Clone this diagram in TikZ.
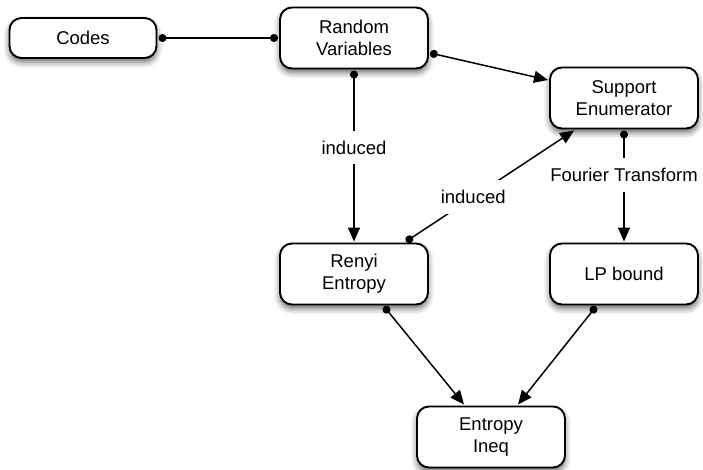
\documentclass[tikz,border=0pt]{standalone}
\usepackage{fontspec}
\setmainfont{Liberation Sans}
\usetikzlibrary{arrows.meta,shadows.blur}
\begin{document}
\begin{tikzpicture}[x=1pt,y=-1pt,
  box/.style={draw=black,line width=1.9pt,rounded corners=12pt,fill=white,
    minimum width=148pt,minimum height=61pt,align=center,outer sep=2pt,
    font=\fontsize{18.5}{22}\selectfont,
    blur shadow={shadow xshift=0pt,shadow yshift=-4pt,shadow blur radius=6pt,shadow opacity=60}},
  conn/.style={line width=1.5pt,{Circle[length=8pt]}-{Triangle[length=14pt,width=12pt]}},
  link/.style={line width=1.5pt,{Circle[length=8pt]}-{Circle[length=8pt]}},
  lbl/.style={fill=white,font=\fontsize{18.5}{22}\selectfont,inner xsep=4pt,inner ysep=10pt}]
\useasboundingbox (0,0) rectangle (703,469);
\node[box,minimum height=40pt,minimum width=147pt] (codes) at (83,38) {Codes};
\node[box] (rv) at (354,38) {Random\\Variables};
\node[box] (sup) at (624,98) {Support\\Enumerator};
\node[box] (renyi) at (354,274) {Renyi\\Entropy};
\node[box] (lp) at (624,274) {LP bound};
\node[box] (ineq) at (491,437) {Entropy\\Ineq};

\draw[link] (codes.east) -- (rv.west);
\draw[conn] ([yshift=-15pt]rv.east) -- ([yshift=18pt]sup.west);
\draw[conn] (rv.south) -- node[lbl,pos=0.45] {induced} (renyi.north);
\draw[conn] ([xshift=52pt]renyi.north) -- node[lbl,pos=0.4] {induced} ([xshift=-50pt]sup.south);
\draw[conn] (sup.south) -- node[lbl,pos=0.4] {Fourier Transform} (lp.north);
\draw[conn] ([xshift=30pt]renyi.south) -- ([xshift=-27pt]ineq.north);
\draw[conn] ([xshift=-28pt]lp.south) -- ([xshift=27pt]ineq.north);
\end{tikzpicture}
\end{document}
